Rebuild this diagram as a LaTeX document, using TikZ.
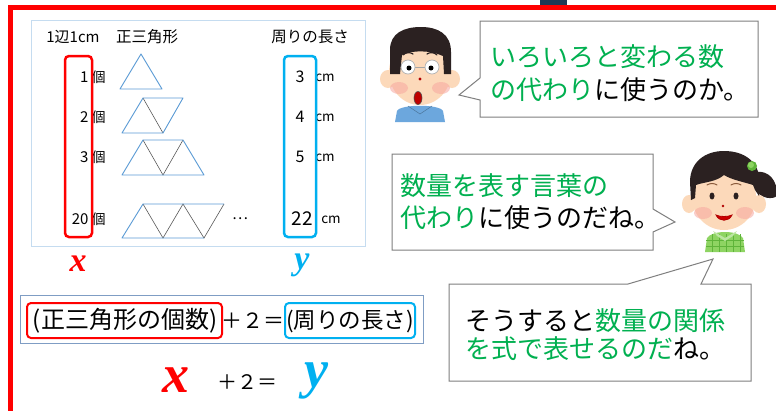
\documentclass[tikz,border=0pt]{standalone}
\usepackage{fontspec}
\setmainfont{Noto Sans CJK JP}
\newfontfamily\varfont{Liberation Serif}

\definecolor{frred}{HTML}{FF0000}
\definecolor{skyb}{HTML}{00B0F0}
\definecolor{trib}{HTML}{5B9BD5}
\definecolor{tblfr}{HTML}{C5DCF0}
\definecolor{eqfr}{HTML}{7F9DC4}
\definecolor{talkg}{HTML}{00B050}
\definecolor{bubg}{HTML}{7F7F7F}
\definecolor{skin}{HTML}{FCD9BA}
\definecolor{blush}{HTML}{F7A7A0}
\definecolor{hair}{HTML}{2B2121}
\definecolor{shirtb}{HTML}{6CA7DD}
\definecolor{shirtg}{HTML}{8ED462}
\definecolor{shirtgd}{HTML}{5FB43A}
\definecolor{navy}{HTML}{1E3A56}
\definecolor{brow}{HTML}{8A5A3A}

\newcommand{\setfs}[1]{\fontsize{#1}{#1}\selectfont}

\tikzset{
  txt/.style={inner sep=0pt, outer sep=0pt},
  num/.style={txt, font=\setfs{15}},
  ko/.style={txt, font=\setfs{14}},
  unit/.style={txt, font=\setfs{13.5}},
  talk/.style={txt, anchor=west, font=\setfs{26}},
  tri/.style={draw=trib, line width=0.9pt, line join=round},
  inner/.style={draw=black!65, line width=0.6pt},
  redbox/.style={draw=frred, line width=2.5pt, rounded corners=4pt},
  bluebox/.style={draw=skyb, line width=2.5pt, rounded corners=4pt},
  bubble/.style={draw=bubg, fill=white, line width=1pt, line join=miter},
  varx/.style={txt, text=frred},
  vary/.style={txt, text=skyb},
}

\begin{document}
\begin{tikzpicture}[x=1pt, y=-1pt]
\useasboundingbox (0,0) rectangle (776,410);
\fill[white] (0,0) rectangle (776,410);

% outer frame
\fill[navy] (540,0) rectangle (567,6);
\draw[frred, line width=5pt] (10.5,412) -- (10.5,7.5) -- (778,7.5);

% ---------- table ----------
\draw[tblfr, line width=1pt] (31,20) rectangle (365,246);
\node[txt, font=\setfs{15}] (h1) at (73,37) {1辺1cm};
\node[txt, font=\setfs{15.5}] (h2) at (147,37) {正三角形};
\node[txt, font=\setfs{15.5}] (h3) at (310,37) {周りの長さ};

% counts
\node[num, anchor=east] (n1) at (88.5,77) {1};
\node[num, anchor=east] (n2) at (88.5,117) {2};
\node[num, anchor=east] (n3) at (88.5,157) {3};
\node[num, anchor=east] (n4) at (88.5,219) {20};
\node[ko] (k1) at (98.5,77) {個};
\node[ko] (k2) at (98.5,117) {個};
\node[ko] (k3) at (98.5,157) {個};
\node[ko] (k4) at (98.5,219) {個};

% perimeters
\node[num, font=\setfs{16}] (p1) at (300,77) {3};
\node[num, font=\setfs{16}] (p2) at (300,117) {4};
\node[num, font=\setfs{16}] (p3) at (300,157) {5};
\node[num, font=\setfs{19}] (p4) at (302,219) {22};
\node[unit] (u1) at (325,78) {cm};
\node[unit] (u2) at (325,118) {cm};
\node[unit] (u3) at (325,158) {cm};
\node[unit] (u4) at (331,220) {cm};

% triangles
\draw[tri] (120,89) -- (141,54) -- (162,89) -- cycle;
\draw[inner] (143,98) -- (163,133);
\draw[tri] (122,133) -- (143,98) -- (183,98) -- (163,133) -- cycle;
\draw[inner] (143,140) -- (163,175) -- (183,140);
\draw[tri] (122,175) -- (143,140) -- (183,140) -- (204,175) -- cycle;
\draw[inner] (143,204) -- (163,238) -- (183,204) -- (204,238) -- (224,204);
\draw[tri] (204,238) -- (122,238) -- (143,204) -- (224,204);
\node[txt, font=\setfs{15}] (dots) at (240,219) {…};

% highlight columns
\draw[redbox] (65,56) rectangle (92,237);
\draw[bluebox] (284,56) rectangle (316,237);

\node[varx, font=\setfs{34}\varfont\bfseries\itshape] (vx) at (78,264) {x};
\node[vary, font=\setfs{34}\varfont\bfseries\itshape] (vy) at (302,265) {y};

% ---------- word formula ----------
\draw[eqfr, line width=0.9pt] (20,295) rectangle (423,343);
\node[txt, font=\setfs{24}] (wx) at (125,321) {(正三角形の個数)};
\node[txt, font=\setfs{21}] (wop) at (253,321) {＋２＝};
\node[txt, font=\setfs{22.5}] (wy) at (350,321) {(周りの長さ)};
\draw[redbox, line width=2pt] (27,303) rectangle (222,338);
\draw[bluebox, line width=2pt] (285,303) rectangle (415,338);

% ---------- letter formula ----------
\node[varx, font=\setfs{54}\varfont\bfseries\itshape] (fx) at (176,380) {x};
\node[txt, font=\setfs{20}] (fop) at (247,382) {＋２＝};
\node[vary, font=\setfs{54}\varfont\bfseries\itshape] (fy) at (316,381) {y};

% ---------- speech bubbles ----------
\draw[bubble] (480,21) -- (758,21) -- (758,117) -- (480,117) -- (480,100)
  -- (459,95) -- (480,78) -- cycle;
\node[talk] (t1a) at (490,57) {\color{talkg}いろいろと変わる数};
\node[talk] (t1b) at (490,90) {\color{talkg}の代わり\color{black}に使うのか。};

\draw[bubble] (392,154) -- (653,154) -- (653,209) -- (675,222) -- (653,232)
  -- (653,250) -- (392,250) -- cycle;
\node[talk] (t2a) at (400,186) {\color{talkg}数量を表す言葉の};
\node[talk] (t2b) at (400,218) {\color{talkg}代わり\color{black}に使うのだね。};

\draw[bubble] (449,284) -- (628,284) -- (713,259) -- (701,284) -- (751,284)
  -- (751,381) -- (449,381) -- cycle;
\node[talk] (t3a) at (465,321) {そうすると\color{talkg}数量の関係};
\node[talk] (t3b) at (465,349) {\color{talkg}を式で表せるのだ\color{black}ね。};

% ---------- boy ----------
\fill[shirtb] (395,122) -- (397,111) .. controls (400,104) and (440,104) .. (443,111) -- (445,122) -- cycle;
\draw[shirtb!70!black, line width=0.5pt] (408,106) -- (420,114) -- (432,106);
\fill[skin] (388,79) ellipse [x radius=8, y radius=9];
\fill[skin] (452,79) ellipse [x radius=8, y radius=9];
\fill[skin] (420,72) ellipse [x radius=31, y radius=33];
\fill[blush, opacity=0.55] (399,88) ellipse [x radius=9, y radius=6];
\fill[blush, opacity=0.55] (441,88) ellipse [x radius=9, y radius=6];
\fill[hair] (390,74) -- (390,50) .. controls (390,33) and (404,27) .. (421,27)
  .. controls (438,27) and (451,34) .. (451,52) -- (451,74) -- (444,74)
  -- (443,56) .. controls (430,50) and (412,50) .. (402,55) -- (400,74) -- cycle;
\draw[hair, line width=1.2pt, line cap=round] (403,55) .. controls (406,52) and (410,52) .. (413,54);
\draw[hair, line width=1.2pt, line cap=round] (427,54) .. controls (430,52) and (434,52) .. (437,55);
\draw[black!35, line width=0.7pt] (415,67) -- (425,67);
\filldraw[fill=white, draw=black!30, line width=0.7pt] (408,67) circle [radius=7];
\filldraw[fill=white, draw=black!30, line width=0.7pt] (432,67) circle [radius=7];
\fill[black] (409,68) circle [radius=2.5];
\fill[black] (431,68) circle [radius=2.5];
\fill[red!70!black] (420,79) circle [radius=1.6];
\filldraw[fill=red!75!black, draw=black!70, line width=0.6pt] (418,98) ellipse [x radius=4, y radius=6.5];

% ---------- girl ----------
\fill[shirtg] (705,252) -- (707,238) .. controls (712,230) and (738,230) .. (743,238) -- (745,252) -- cycle;
\foreach \gx in {712,719,726,733,740}
  \draw[shirtgd, line width=1pt] (\gx,234) -- (\gx,252);
\foreach \gy in {240,246}
  \draw[shirtgd, line width=1pt] (706,\gy) -- (744,\gy);
\fill[shirtg!60!white] (713,231) -- (725,238) -- (737,231) -- (733,236) -- (725,241) -- (717,236) -- cycle;
\fill[hair] (756,172) .. controls (768,170) and (778,180) .. (777,196)
  .. controls (772,200) and (762,198) .. (757,192) -- cycle;
\fill[skin] (689,204) ellipse [x radius=7, y radius=9];
\fill[skin] (759,204) ellipse [x radius=7, y radius=9];
\fill[skin] (724,197) ellipse [x radius=32, y radius=33];
\fill[blush, opacity=0.55] (703,213) ellipse [x radius=9, y radius=6];
\fill[blush, opacity=0.55] (745,213) ellipse [x radius=9, y radius=6];
\fill[hair] (691,200) -- (690,182) .. controls (690,162) and (705,151) .. (724,151)
  .. controls (745,151) and (759,162) .. (760,182) -- (759,196) -- (755,190)
  -- (753,185) .. controls (744,182) and (732,180) .. (724,175)
  .. controls (716,182) and (704,182) .. (696,185) -- (695,198) -- cycle;
\fill[shirtgd] (752,166) circle [radius=5];
\fill[shirtg] (751,165) circle [radius=3];
\draw[brow, line width=1pt, line cap=round] (707,185) .. controls (710,183) and (714,183) .. (717,185);
\draw[brow, line width=1pt, line cap=round] (731,185) .. controls (734,183) and (738,183) .. (741,185);
\fill[hair] (712,196) ellipse [x radius=2.5, y radius=3.5];
\fill[hair] (736,196) ellipse [x radius=2.5, y radius=3.5];
\fill[red!70!black] (723,206) circle [radius=1.4];
\filldraw[fill=red!80!black, draw=red!70!black, line width=0.8pt] (716,215) .. controls (719,222) and (729,222) .. (732,215) .. controls (728,217) and (720,217) .. (716,215) -- cycle;
\end{tikzpicture}
\end{document}
